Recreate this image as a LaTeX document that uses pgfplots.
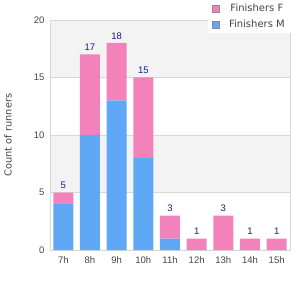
\documentclass[border=0pt]{standalone}
\usepackage{pgfplots}
\pgfplotsset{compat=1.18}
\usepackage{pgfplotstable}
\usepackage{fontspec}
\setmainfont{Liberation Sans}
\newfontfamily\dv{DejaVu Sans}
\definecolor{pinkF}{HTML}{F282B9}
\definecolor{blueM}{HTML}{5FA8F5}
\definecolor{lbl}{HTML}{1A1A8C}
\definecolor{tk}{HTML}{444444}
\definecolor{band}{HTML}{F3F3F3}
\definecolor{frm}{HTML}{D8D8D8}
\pgfplotstableread{
x m f t
0 4 1 5
1 10 7 17
2 13 5 18
3 8 7 15
4 1 2 3
5 0 1 1
6 0 3 3
7 0 1 1
8 0 1 1
}\data
\begin{document}
\begin{tikzpicture}
\path[use as bounding box] (0,0) rectangle (300pt,300pt);
\begin{axis}[
  at={(50pt,50pt)}, anchor=south west,
  scale only axis, width=240pt, height=230pt,
  xmin=-0.5, xmax=8.5, ymin=0, ymax=20, hide axis,
]
\fill[band] (axis cs:-0.5,15) rectangle (axis cs:8.5,20);
\fill[band] (axis cs:-0.5,5) rectangle (axis cs:8.5,10);
\end{axis}
\begin{axis}[
  at={(50pt,50pt)}, anchor=south west,
  scale only axis, width=240pt, height=230pt,
  ybar stacked, bar width=20pt,
  xmin=-0.5, xmax=8.5, ymin=0, ymax=20,
  xtick=data, xticklabels={7h,8h,9h,10h,11h,12h,13h,14h,15h},
  ytick={0,5,10,15,20},
  ymajorgrids, grid style={draw=frm, line width=0.6pt},
  axis line style={draw=frm, line width=0.8pt},
  major tick length=0pt,
  tick label style={font=\fontsize{9.5}{10}\selectfont, text=tk},
  /pgf/number format/assume math mode=true,
  yticklabel style={xshift=-2pt},
  xticklabel style={yshift=-3pt},
  ylabel={Count of runners},
  ylabel style={font=\dv\fontsize{9.8}{10}\selectfont, text=tk, at={(axis description cs:-0.175,0.5)}, anchor=center},
  legend style={at={(axis description cs:1,1)}, anchor=north east, xshift=1pt, yshift=20pt,
    draw=none, fill=white, font=\dv\fontsize{10}{11}\selectfont, text=tk,
    inner xsep=4pt, inner ysep=2pt, row sep=3pt},
  legend image code/.code={\draw[draw=gray!90, line width=0.6pt, #1] (0pt,-3.8pt) rectangle (7.6pt,3.8pt);
    \path (0pt,0pt) -- (15pt,0pt);},
  reverse legend,
]
\addplot[fill=blueM, draw=none] table[x=x, y=m] {\data};
\addlegendentry{Finishers M}
\addplot[fill=pinkF, draw=none] table[x=x, y=f] {\data};
\addlegendentry{Finishers F}
\end{axis}
\begin{axis}[
  at={(50pt,50pt)}, anchor=south west,
  scale only axis, width=240pt, height=230pt,
  xmin=-0.5, xmax=8.5, ymin=0, ymax=20, hide axis,
  ybar, bar width=20pt, bar shift=0pt,
  /pgf/number format/assume math mode=true,
]
\addplot[draw=none, fill=none,
  nodes near coords,
  nodes near coords style={font=\fontsize{9.5}{10}\selectfont, text=lbl, anchor=south, yshift=0pt}
  ] table[x=x, y=t] {\data};
\end{axis}
\end{tikzpicture}
\end{document}
